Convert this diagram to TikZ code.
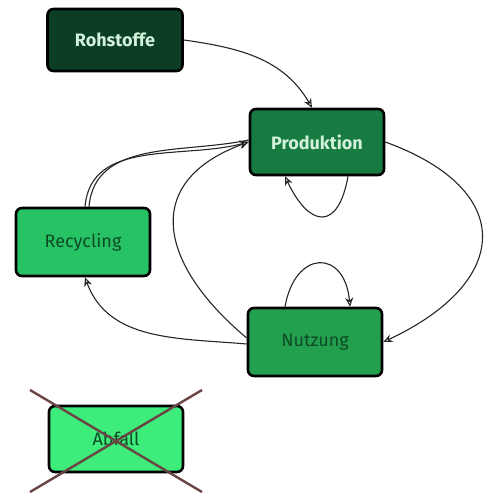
\documentclass[tikz,border=0pt]{standalone}
\usepackage{fontspec}
\setmainfont{Fira Sans}
\usetikzlibrary{arrows.meta}
\definecolor{rohfill}{HTML}{0C3E25}
\definecolor{prodfill}{HTML}{167A41}
\definecolor{recfill}{HTML}{26C264}
\definecolor{nutzfill}{HTML}{22A04E}
\definecolor{abffill}{HTML}{3DEC7B}
\definecolor{lighttext}{HTML}{D2F2DA}
\definecolor{darktext}{HTML}{0E4A25}
\definecolor{crosscol}{HTML}{6A4444}
\tikzset{
  box/.style={draw=black, line width=2.6pt, rounded corners=6pt, minimum width=134pt, minimum height=64pt, font=\fontsize{18}{20}\selectfont, inner sep=0pt},
  boldbox/.style={box, font=\fontsize{18}{20}\selectfont\bfseries},
  arr/.style={draw=black!85, line width=1.1pt, -{Stealth[open, length=9pt, width=8pt]}},
}
\begin{document}
\begin{tikzpicture}[x=1pt,y=1pt]
\useasboundingbox (0,0) rectangle (486,-494);
\node[boldbox, fill=rohfill, text=lighttext, minimum width=135pt, minimum height=62pt] (roh) at (115,-40) {Rohstoffe};
\node[boldbox, fill=prodfill, text=lighttext, minimum height=66pt] (prod) at (317,-142) {Produktion};
\node[box, fill=recfill, text=darktext, minimum height=68pt] (rec) at (83,-242) {Recycling};
\node[box, fill=nutzfill, text=darktext, minimum height=68pt] (nutz) at (315,-342) {Nutzung};
\node[box, fill=abffill, text=darktext, minimum height=66pt] (abf) at (116,-439) {Abfall};
% cross over Abfall
\coordinate (c1) at (30,-390);
\coordinate (c2) at (202,-492);
\coordinate (c3) at (30,-492);
\coordinate (c4) at (202,-390);
\draw[crosscol, line width=2.4pt] (c1) -- (c2);
\draw[crosscol, line width=2.4pt] (c3) -- (c4);
% connectors
\draw[arr] (roh.east) to[out=-8, in=120] ([xshift=-5pt]prod.north);
\draw[arr] ([xshift=31pt]prod.south) to[out=-100, in=-65, looseness=2.3] ([xshift=-32pt]prod.south);
\draw[arr] (prod.east) to[out=-20, in=25, looseness=1.8] (nutz.east);
\draw[arr] ([xshift=-30pt]nutz.north) to[out=80, in=95, looseness=2.3] ([xshift=35pt]nutz.north);
\draw[arr] ([yshift=-2pt]nutz.west) to[out=175, in=-70] ([xshift=2pt]rec.south);
\draw[arr] ([yshift=4pt]nutz.west) to[out=140, in=200, looseness=1.5] (prod.west);
\draw[arr] ([xshift=2pt]rec.north) to[out=85, in=195] (prod.west);
\draw[draw=black!85, line width=1.1pt] ([xshift=6pt]rec.north) to[out=85, in=192] ([yshift=2pt]prod.west);
\end{tikzpicture}
\end{document}
